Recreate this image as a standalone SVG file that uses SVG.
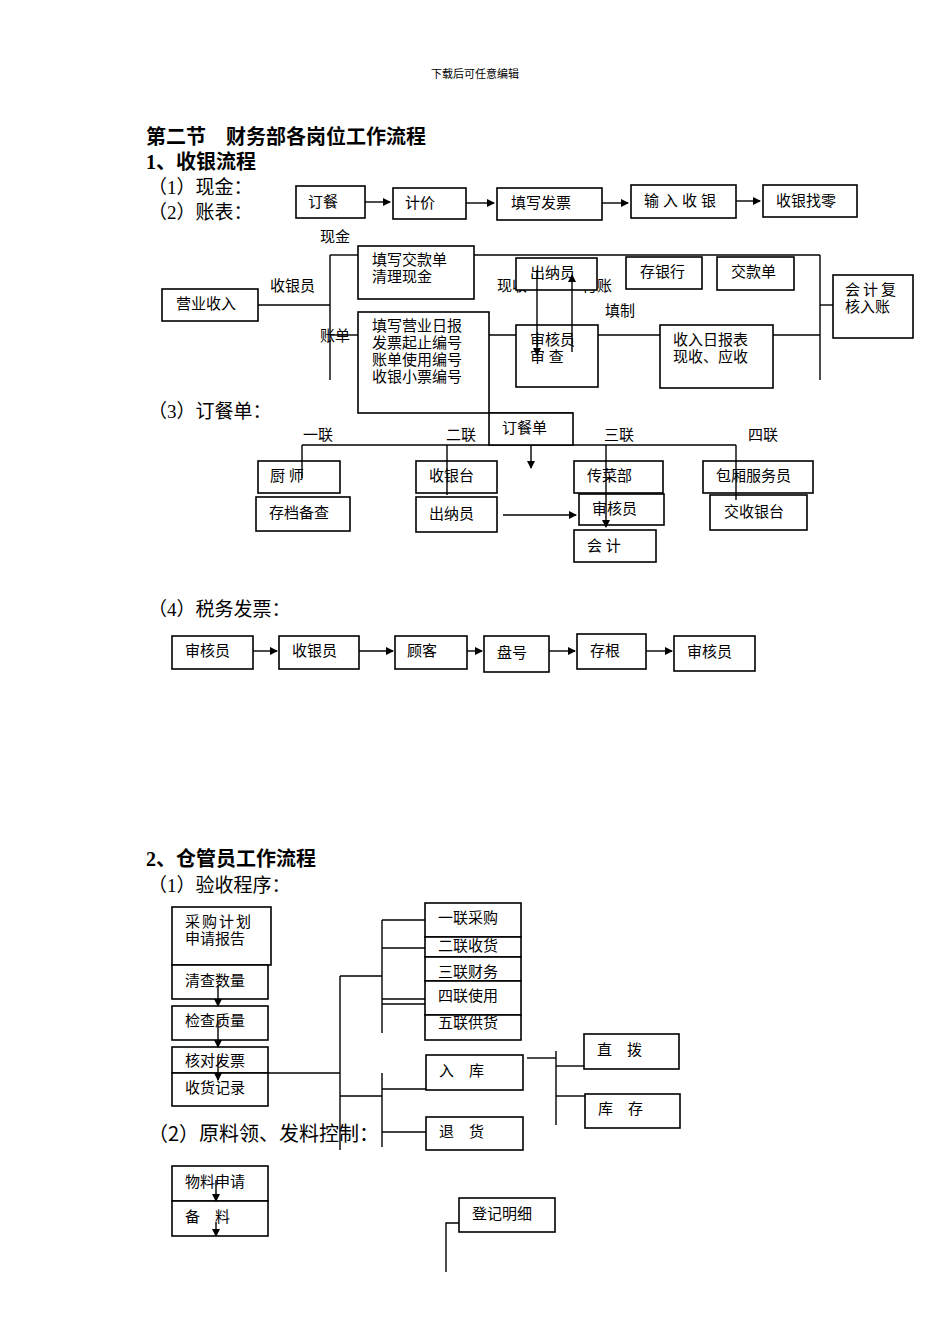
<svg xmlns="http://www.w3.org/2000/svg" width="950" height="1344" viewBox="0 0 950 1344">
<style>
text{font-family:"Liberation Serif","Noto Sans CJK SC",serif;fill:#000}
.t{font-size:15px}
.h{font-size:20px;font-weight:bold}
.s{font-size:19px}
rect{fill:#fff;stroke:#000;stroke-width:1.6}
.c line,.c polyline{stroke:#000;stroke-width:1.4;fill:none}
</style>
<defs><marker id="a" markerWidth="8" markerHeight="8" refX="7" refY="4" orient="auto" markerUnits="userSpaceOnUse"><path d="M0,0L8,4L0,8z"/></marker></defs>
<text x="475" y="78" font-size="11" text-anchor="middle">下载后可任意编辑</text>
<text class="h" x="146" y="144">第二节　财务部各岗位工作流程</text>
<text class="h" x="146" y="169">1、收银流程</text>
<text class="s" x="148" y="194">（1）现金：</text>
<text class="s" x="148" y="219">（2）账表：</text>
<text class="t" x="320" y="242">现金</text>
<text class="t" x="270" y="291">收银员</text>
<text class="t" x="320" y="341">账单</text>
<text class="t" x="497" y="291">现收</text>
<text class="t" x="582" y="291">付账</text>
<text class="t" x="605" y="316">填制</text>
<text class="s" x="148" y="418">（3）订餐单：</text>
<text class="t" x="303" y="440">一联</text>
<text class="t" x="446" y="440">二联</text>
<text class="t" x="604" y="440">三联</text>
<text class="t" x="748" y="440">四联</text>
<text class="s" x="148" y="616">（4）税务发票：</text>
<text class="h" x="146" y="866">2、仓管员工作流程</text>
<text class="s" x="148" y="892">（1）验收程序：</text>
<text x="148" y="1141" style="font-family:'Noto Sans CJK SC',sans-serif;font-size:20px">（2）原料领、发料控制：</text>
<g class="c">
<line x1="365" y1="202" x2="390" y2="202" marker-end="url(#a)"/>
<line x1="466" y1="203" x2="494" y2="203" marker-end="url(#a)"/>
<line x1="602" y1="203" x2="628" y2="203" marker-end="url(#a)"/>
<line x1="736" y1="201" x2="760" y2="201" marker-end="url(#a)"/>
<line x1="258" y1="305" x2="330" y2="305"/>
<line x1="330" y1="255" x2="330" y2="380"/>
<line x1="330" y1="255" x2="358" y2="255"/>
<line x1="330" y1="335" x2="358" y2="335"/>
<line x1="474" y1="255" x2="820" y2="255"/>
<line x1="820" y1="255" x2="820" y2="380"/>
<line x1="820" y1="305" x2="833" y2="305"/>
<line x1="488" y1="335" x2="820" y2="335"/>
<line x1="488" y1="413" x2="573" y2="413"/>
<line x1="302" y1="445" x2="736" y2="445"/>
<line x1="531" y1="445" x2="531" y2="468" marker-end="url(#a)"/>
<line x1="503" y1="515" x2="576" y2="515" marker-end="url(#a)"/>
<line x1="253" y1="651" x2="277" y2="651" marker-end="url(#a)"/>
<line x1="359" y1="651" x2="393" y2="651" marker-end="url(#a)"/>
<line x1="467" y1="651" x2="482" y2="651" marker-end="url(#a)"/>
<line x1="549" y1="651" x2="575" y2="651" marker-end="url(#a)"/>
<line x1="646" y1="651" x2="672" y2="651" marker-end="url(#a)"/>
<line x1="268" y1="1073" x2="340" y2="1073"/>
<line x1="340" y1="976" x2="340" y2="1150"/>
<line x1="340" y1="976" x2="382" y2="976"/>
<line x1="382" y1="920" x2="382" y2="1033"/>
<line x1="382" y1="920" x2="425" y2="920"/>
<line x1="382" y1="948" x2="425" y2="948"/>
<line x1="382" y1="999" x2="425" y2="999"/>
<line x1="382" y1="1004" x2="425" y2="1004"/>
<line x1="340" y1="1096" x2="382" y2="1096"/>
<line x1="382" y1="1073" x2="382" y2="1147"/>
<line x1="382" y1="1089" x2="426" y2="1089"/>
<line x1="382" y1="1132" x2="428" y2="1132"/>
<line x1="527" y1="1058" x2="556" y2="1058"/>
<line x1="556" y1="1051" x2="556" y2="1125"/>
<line x1="556" y1="1066" x2="584" y2="1066"/>
<line x1="556" y1="1096" x2="585" y2="1096"/>
<polyline points="459,1223 446,1223 446,1272"/>
</g>
<g id="n1"><rect x="296" y="186" width="69" height="32"/><text class="t" x="308" y="207">订餐</text></g>
<g id="n2"><rect x="393" y="188" width="73" height="31"/><text class="t" x="405" y="208">计价</text></g>
<g id="n3"><rect x="497" y="188" width="105" height="32"/><text class="t" x="511" y="208">填写发票</text></g>
<g id="n4"><rect x="631" y="185" width="105" height="33"/><text class="t" x="644" y="206" letter-spacing="4">输入收银</text></g>
<g id="n5"><rect x="763" y="185" width="94" height="32"/><text class="t" x="776" y="206">收银找零</text></g>
<g id="n6"><rect x="162" y="289" width="96" height="32"/><text class="t" x="176" y="309">营业收入</text></g>
<g id="n7"><rect x="358" y="246" width="116" height="53"/><text class="t" x="372" y="265">填写交款单</text><text class="t" x="372" y="282">清理现金</text></g>
<g id="n8"><rect x="516" y="258" width="81" height="32"/><text class="t" x="530" y="278">出纳员</text></g>
<g id="n9"><rect x="626" y="257" width="76" height="32"/><text class="t" x="640" y="277">存银行</text></g>
<g id="n10"><rect x="717" y="257" width="77" height="33"/><text class="t" x="731" y="277">交款单</text></g>
<g id="n11"><rect x="833" y="275" width="80" height="63"/><text class="t" x="845" y="295" letter-spacing="3">会计复</text><text class="t" x="845" y="312">核入账</text></g>
<g id="n12"><rect x="358" y="312" width="131" height="101"/><text class="t" x="372" y="331">填写营业日报</text><text class="t" x="372" y="348">发票起止编号</text><text class="t" x="372" y="365">账单使用编号</text><text class="t" x="372" y="382">收银小票编号</text></g>
<g id="n13"><rect x="516" y="325" width="82" height="62"/><text class="t" x="530" y="345">审核员</text><text class="t" x="530" y="362">审 查</text></g>
<g id="n14"><rect x="660" y="325" width="113" height="63"/><text class="t" x="673" y="345">收入日报表</text><text class="t" x="673" y="362">现收、应收</text></g>
<g class="c">
<line x1="537" y1="270" x2="537" y2="355" marker-end="url(#a)"/>
<line x1="572" y1="352" x2="572" y2="275" marker-end="url(#a)"/>
</g>
<g id="n15"><rect x="489" y="413" width="84" height="32"/><text class="t" x="502" y="433">订餐单</text></g>
<g id="n16"><rect x="258" y="461" width="82" height="32"/><text class="t" x="270" y="481">厨 师</text></g>
<g id="n17"><rect x="256" y="497" width="94" height="34"/><text class="t" x="269" y="518">存档备查</text></g>
<g id="n18"><rect x="416" y="461" width="81" height="32"/><text class="t" x="429" y="481">收银台</text></g>
<g id="n19"><rect x="416" y="497" width="81" height="35"/><text class="t" x="429" y="519">出纳员</text></g>
<g id="n20"><rect x="574" y="461" width="89" height="32"/><text class="t" x="587" y="481">传菜部</text></g>
<g id="n21"><rect x="579" y="494" width="85" height="31"/><text class="t" x="592" y="514">审核员</text></g>
<g id="n22"><rect x="574" y="530" width="82" height="32"/><text class="t" x="587" y="551">会 计</text></g>
<g id="n23"><rect x="703" y="461" width="110" height="32"/><text class="t" x="716" y="481">包厢服务员</text></g>
<g id="n24"><rect x="710" y="495" width="97" height="35"/><text class="t" x="724" y="517">交收银台</text></g>
<g class="c">
<line x1="302" y1="445" x2="302" y2="478"/>
<line x1="447" y1="445" x2="447" y2="495"/>
<line x1="606" y1="445" x2="606" y2="527" marker-end="url(#a)"/>
<line x1="736" y1="445" x2="736" y2="500"/>
</g>
<g id="n25"><rect x="172" y="636" width="81" height="33"/><text class="t" x="185" y="656">审核员</text></g>
<g id="n26"><rect x="279" y="636" width="80" height="33"/><text class="t" x="292" y="656">收银员</text></g>
<g id="n27"><rect x="395" y="636" width="72" height="33"/><text class="t" x="407" y="656">顾客</text></g>
<g id="n28"><rect x="484" y="636" width="65" height="36"/><text class="t" x="497" y="658">盘号</text></g>
<g id="n29"><rect x="577" y="634" width="69" height="35"/><text class="t" x="590" y="656">存根</text></g>
<g id="n30"><rect x="674" y="636" width="81" height="35"/><text class="t" x="687" y="657">审核员</text></g>
<g id="n31"><rect x="172" y="907" width="99" height="58"/><text class="t" x="185" y="927" letter-spacing="2">采购计划</text><text class="t" x="185" y="944">申请报告</text></g>
<g id="n32"><rect x="172" y="965" width="96" height="34"/><text class="t" x="185" y="986">清查数量</text></g>
<g id="n33"><rect x="172" y="1006" width="96" height="34"/><text class="t" x="185" y="1026">检查质量</text></g>
<g id="n34"><rect x="172" y="1047" width="96" height="26"/><text class="t" x="185" y="1066">核对发票</text></g>
<g id="n35"><rect x="172" y="1073" width="96" height="33"/><text class="t" x="185" y="1093">收货记录</text></g>
<g class="c">
<line x1="218" y1="985" x2="218" y2="1006" marker-end="url(#a)"/>
<line x1="218" y1="1020" x2="218" y2="1047" marker-end="url(#a)"/>
<line x1="218" y1="1058" x2="218" y2="1080" marker-end="url(#a)"/>
</g>
<g id="n36"><rect x="425" y="903" width="96" height="34"/><text class="t" x="438" y="923">一联采购</text></g>
<g id="n37"><rect x="425" y="937" width="96" height="20"/><text class="t" x="438" y="951">二联收货</text></g>
<g id="n38"><rect x="425" y="957" width="96" height="24"/><text class="t" x="438" y="977">三联财务</text></g>
<g id="n39"><rect x="425" y="981" width="96" height="34"/><text class="t" x="438" y="1001">四联使用</text></g>
<g id="n40"><rect x="425" y="1015" width="96" height="25"/><text class="t" x="438" y="1028">五联供货</text></g>
<g id="n41"><rect x="426" y="1055" width="97" height="35"/><text class="t" x="439" y="1076">入　库</text></g>
<g id="n42"><rect x="426" y="1117" width="97" height="33"/><text class="t" x="439" y="1137">退　货</text></g>
<g id="n43"><rect x="584" y="1034" width="95" height="35"/><text class="t" x="597" y="1055">直　拨</text></g>
<g id="n44"><rect x="585" y="1094" width="95" height="34"/><text class="t" x="598" y="1114">库　存</text></g>
<g id="n45"><rect x="172" y="1166" width="96" height="35"/><text class="t" x="185" y="1187">物料申请</text></g>
<g id="n46"><rect x="172" y="1201" width="96" height="35"/><text class="t" x="185" y="1222">备　料</text></g>
<g class="c">
<line x1="216" y1="1180" x2="216" y2="1201" marker-end="url(#a)"/>
<line x1="216" y1="1222" x2="216" y2="1236" marker-end="url(#a)"/>
</g>
<g id="n47"><rect x="459" y="1198" width="96" height="34"/><text class="t" x="472" y="1219">登记明细</text></g>
</svg>
